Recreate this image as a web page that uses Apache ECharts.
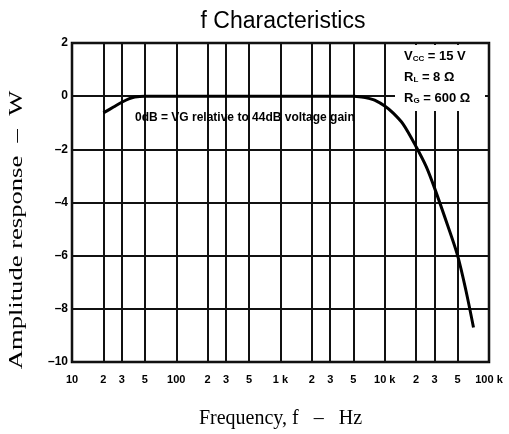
<!DOCTYPE html>
<html>
<head>
<meta charset="utf-8">
<script src="https://cdn.jsdelivr.net/npm/echarts@6/dist/echarts.min.js"></script>
<style>
html,body{margin:0;padding:0;background:#fff;}
#chart{width:509px;height:434px;}
</style>
</head>
<body>
<div id="chart"></div>
<script>
// ---- data ----
const freqHz = [20, 25, 30, 35, 40, 50, 70, 100, 1000, 5000, 6000, 7000, 8000, 10000, 12000, 15000, 20000, 25000, 30000, 40000, 50000, 60000, 71000];
const responseDb = [-0.63, -0.41, -0.23, -0.1, -0.03, 0, 0, 0, 0, 0, -0.03, -0.08, -0.15, -0.37, -0.63, -1.05, -1.9, -2.65, -3.45, -4.85, -6.0, -7.3, -8.7];
const xTickHz = [10, 20, 30, 50, 100, 200, 300, 500, 1000, 2000, 3000, 5000, 10000, 20000, 30000, 50000, 100000];
const xTickLabels = ['10', '2', '3', '5', '100', '2', '3', '5', '1 k', '2', '3', '5', '10 k', '2', '3', '5', '100 k'];
const yMin = -10, yMax = 2, yStep = 2;
const titleText = 'f Characteristics';
const xName = 'Frequency, f   \u2013   Hz';
const yName = 'Amplitude response  \u2013  W';
const noteText = '0dB = VG relative to 44dB voltage gain';

const xTickLog = xTickHz.map(v => Math.log10(v));
const seriesData = freqHz.map((f, i) => [Math.log10(f), responseDb[i]]);

const chart = echarts.init(document.getElementById('chart'), null, {renderer: 'canvas'});
const boldFont = 'Liberation Sans, Arial, sans-serif';
const serif = 'Liberation Serif, Times New Roman, serif';
const richStyles = {
  b: {fontFamily: boldFont, fontWeight: 'bold', fontSize: 13, fill: '#000'},
  s: {fontFamily: boldFont, fontWeight: 'bold', fontSize: 8, fill: '#000', verticalAlign: 'bottom', padding: [5, 0, 0, 0]}
};

chart.setOption({
  animation: false,
  backgroundColor: '#fff',
  grid: {left: 72, right: 20, top: 43, bottom: 62, show: true, borderColor: '#000', borderWidth: 2.5, backgroundColor: 'transparent'},
  xAxis: {
    type: 'value', min: 1, max: 5,
    axisLine: {show: false},
    axisTick: {show: false, customValues: xTickLog},
    axisLabel: {
      customValues: xTickLog,
      margin: 12,
      fontFamily: boldFont, fontWeight: 'bold', fontSize: 11, color: '#000',
      formatter: function (v) {
        for (let i = 0; i < xTickLog.length; i++) if (Math.abs(xTickLog[i] - v) < 1e-6) return xTickLabels[i];
        return '';
      }
    },
    splitLine: {show: true, lineStyle: {color: '#111', width: 2}},
    name: xName, nameLocation: 'middle', nameGap: 47,
    nameTextStyle: {fontFamily: serif, fontSize: 20, color: '#000'}
  },
  yAxis: {
    type: 'value', min: yMin, max: yMax, interval: yStep,
    axisLine: {show: false},
    axisTick: {show: false},
    axisLabel: {
      margin: 4, fontFamily: boldFont, fontWeight: 'bold', fontSize: 12, color: '#000',
      formatter: v => String(v).replace('-', '\u2013')
    },
    splitLine: {show: true, lineStyle: {color: '#111', width: 2}}
  },
  series: [{
    type: 'line',
    data: seriesData,
    smooth: 0.3,
    showSymbol: false,
    lineStyle: {color: '#000', width: 3},
    z: 5
  }],
  graphic: [
    {
      type: 'text', x: 283, y: 22, z: 10,
      style: {text: titleText, align: 'center', verticalAlign: 'middle', font: '23px Liberation Sans, Arial, sans-serif', fill: '#000'}
    },
    {
      type: 'text', x: 17, y: 230, rotation: Math.PI / 2, scaleX: 1.4, z: 10,
      style: {text: yName, align: 'center', verticalAlign: 'middle', font: '19px ' + serif, fill: '#000'}
    },
    {
      type: 'text', x: 135, y: 118, z: 10,
      style: {text: noteText, align: 'left', verticalAlign: 'middle', font: 'bold 12px ' + boldFont, fill: '#000'}
    },
    {
      type: 'rect', shape: {x: 395, y: 45, width: 90, height: 66}, z: 8,
      style: {fill: '#fff'}
    },
    {
      type: 'text', x: 404, y: 56, z: 10,
      style: {text: '{b|V}{s|CC}{b| = 15 V}', align: 'left', verticalAlign: 'middle', rich: richStyles}
    },
    {
      type: 'text', x: 404, y: 77, z: 10,
      style: {text: '{b|R}{s|L}{b| = 8 \u03A9}', align: 'left', verticalAlign: 'middle', rich: richStyles}
    },
    {
      type: 'text', x: 404, y: 98, z: 10,
      style: {text: '{b|R}{s|G}{b| = 600 \u03A9}', align: 'left', verticalAlign: 'middle', rich: richStyles}
    }
  ]
});
</script>
</body>
</html>
